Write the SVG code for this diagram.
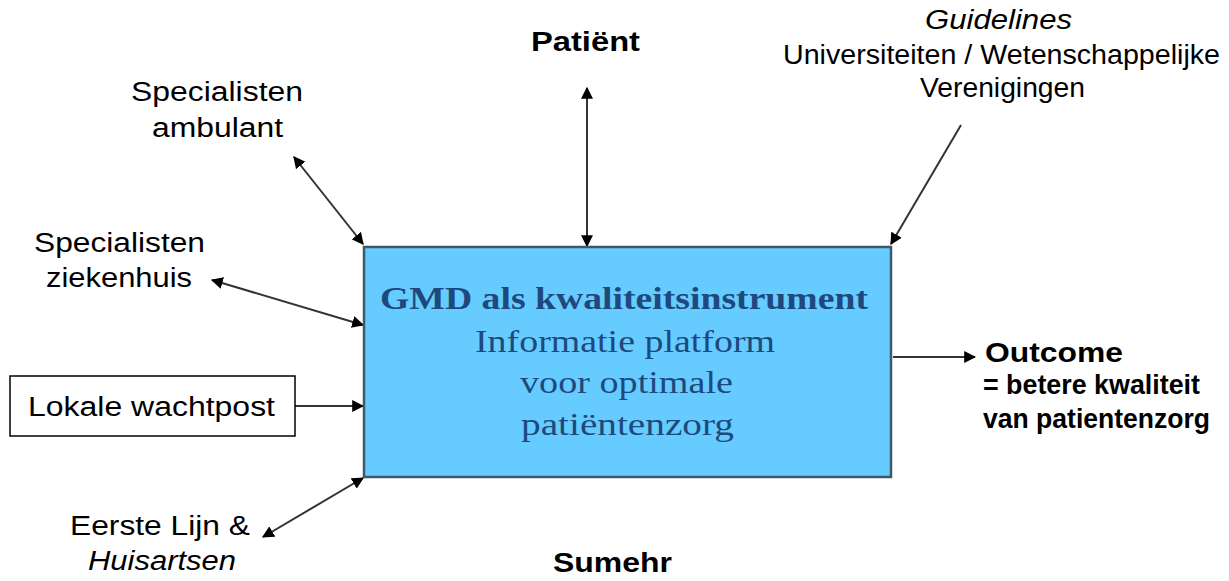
<svg xmlns="http://www.w3.org/2000/svg" width="1229" height="581" viewBox="0 0 1229 581">
<style>
.t{font-family:"Liberation Sans",Arial,sans-serif;fill:#000;font-size:27px}
.b{font-weight:bold}
.i{font-style:italic}
.c{font-family:"Liberation Serif","DejaVu Serif",serif;fill:#1f497d;font-size:31px}
.ln{stroke:#333;stroke-width:2;fill:none}
</style>
<defs>
<marker id="ah" viewBox="0 0 10 10" refX="9" refY="5" markerWidth="6" markerHeight="6" orient="auto-start-reverse" markerUnits="strokeWidth">
<path d="M0,0 L10,5 L0,10 z" fill="#000"/>
</marker>
</defs>
<rect width="1229" height="581" fill="#fff"/>
<g id="connectors">
<line class="ln" x1="294" y1="157" x2="363" y2="244" marker-start="url(#ah)" marker-end="url(#ah)"/>
<line class="ln" x1="212" y1="280" x2="363" y2="325" marker-start="url(#ah)" marker-end="url(#ah)"/>
<line class="ln" x1="295" y1="406" x2="363" y2="406" marker-end="url(#ah)"/>
<line class="ln" x1="263" y1="537" x2="363" y2="478" marker-start="url(#ah)" marker-end="url(#ah)"/>
<line class="ln" x1="587" y1="88" x2="587" y2="246" marker-start="url(#ah)" marker-end="url(#ah)"/>
<line class="ln" x1="961" y1="125" x2="891" y2="244" marker-end="url(#ah)"/>
<line class="ln" x1="893" y1="357" x2="975" y2="357" marker-end="url(#ah)"/>
</g>
<g id="center">
<rect x="364" y="247" width="527" height="230" fill="#66ccff" stroke="#3d5a6b" stroke-width="2.5"/>
<text class="c" x="380" y="309" font-weight="bold" textLength="488" lengthAdjust="spacingAndGlyphs">GMD als kwaliteitsinstrument</text>
<text class="c" x="475" y="352" textLength="300" lengthAdjust="spacingAndGlyphs">Informatie platform</text>
<text class="c" x="520" y="393" textLength="213" lengthAdjust="spacingAndGlyphs">voor optimale</text>
<text class="c" x="521" y="435" textLength="213" lengthAdjust="spacingAndGlyphs">patiëntenzorg</text>
</g>
<g id="spec-amb">
<text class="t" x="131" y="101" textLength="172" lengthAdjust="spacingAndGlyphs">Specialisten</text>
<text class="t" x="152" y="137" textLength="131" lengthAdjust="spacingAndGlyphs">ambulant</text>
</g>
<g id="spec-zkh">
<text class="t" x="34" y="252" textLength="171" lengthAdjust="spacingAndGlyphs">Specialisten</text>
<text class="t" x="46" y="287" textLength="146" lengthAdjust="spacingAndGlyphs">ziekenhuis</text>
</g>
<g id="wachtpost">
<rect x="10" y="376" width="285" height="60" fill="#fff" stroke="#000" stroke-width="1.5"/>
<text class="t" x="28" y="416" textLength="247" lengthAdjust="spacingAndGlyphs">Lokale wachtpost</text>
</g>
<g id="eerste-lijn">
<text class="t" x="70" y="535" textLength="180" lengthAdjust="spacingAndGlyphs">Eerste Lijn &amp;</text>
<text class="t i" x="88" y="570" textLength="148" lengthAdjust="spacingAndGlyphs">Huisartsen</text>
</g>
<g id="patient">
<text class="t b" x="531" y="51" textLength="109" lengthAdjust="spacingAndGlyphs">Patiënt</text>
</g>
<g id="guidelines">
<text class="t i" x="925" y="29" font-size="25" textLength="147" lengthAdjust="spacingAndGlyphs">Guidelines</text>
<text class="t" x="783" y="64" font-size="24" textLength="437" lengthAdjust="spacingAndGlyphs">Universiteiten / Wetenschappelijke</text>
<text class="t" x="920" y="97" font-size="24" textLength="165" lengthAdjust="spacingAndGlyphs">Verenigingen</text>
</g>
<g id="outcome">
<text class="t b" x="985" y="362" textLength="138" lengthAdjust="spacingAndGlyphs">Outcome</text>
<text class="t b" x="983" y="394" font-size="21" textLength="217" lengthAdjust="spacingAndGlyphs">= betere kwaliteit</text>
<text class="t b" x="983" y="428" font-size="21" textLength="227" lengthAdjust="spacingAndGlyphs">van patientenzorg</text>
</g>
<g id="sumehr">
<text class="t b" x="553" y="572" textLength="119" lengthAdjust="spacingAndGlyphs">Sumehr</text>
</g>
</svg>
